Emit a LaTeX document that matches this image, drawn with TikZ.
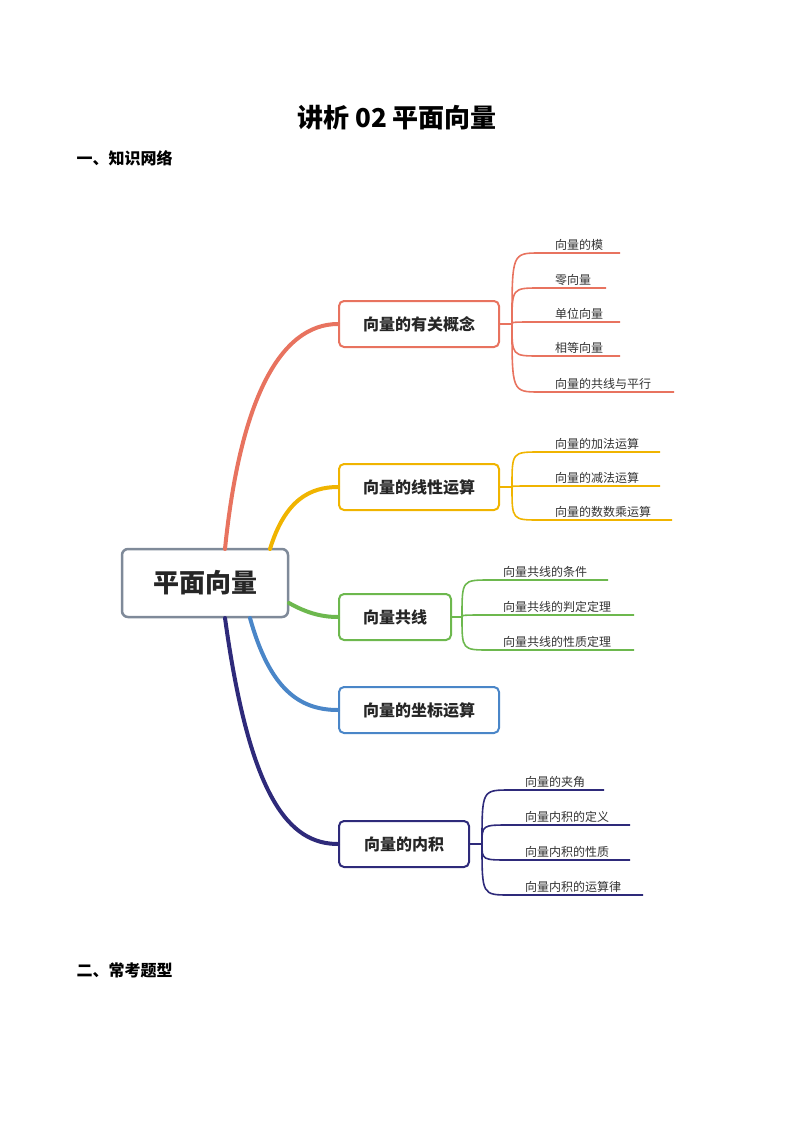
\documentclass[tikz,border=0pt]{standalone}
\usepackage{fontspec}
\setmainfont{Noto Sans CJK SC}
\usetikzlibrary{positioning}
\definecolor{cgray}{HTML}{7F8A99}
\definecolor{cred}{HTML}{E8735F}
\definecolor{cyel}{HTML}{F0B400}
\definecolor{cgrn}{HTML}{6DB84E}
\definecolor{cblu}{HTML}{4A86C8}
\definecolor{cpur}{HTML}{2E2A7A}
\tikzset{
  topic/.style={draw=#1,line width=2pt,rounded corners=5pt,minimum height=46pt,
    font=\fontsize{16}{18}\selectfont\bfseries,text=black!85},
  stem/.style={draw=#1,line width=4pt,line cap=round},
  twig/.style={draw=#1,line width=1.6pt},
  leaf/.style={anchor=south west,inner sep=2pt,text=black!80,font=\fontsize{12}{14}\selectfont}
}
\begin{document}
\begin{tikzpicture}[x=1pt,y=-1pt]
\useasboundingbox (0,0) rectangle (794,1123);
\node (title) at (397,118) {\fontsize{26}{30}\selectfont\bfseries 讲析 02 平面向量};
\node[anchor=west] (sec1) at (73,158) {\fontsize{16}{18}\selectfont\bfseries 一、知识网络};
\node[anchor=west] (sec2) at (73,970) {\fontsize{16}{18}\selectfont\bfseries 二、常考题型};

% centre
\node[draw=cgray,line width=2.5pt,rounded corners=6pt,minimum width=166pt,minimum height=68pt,
  text=black!85,font=\fontsize{26}{30}\selectfont\bfseries] (root) at (205,583) {平面向量};

% main topics
\node[topic=cred,minimum width=160pt] (b1) at (419,324) {向量的有关概念};
\node[topic=cyel,minimum width=160pt] (b2) at (419,487) {向量的线性运算};
\node[topic=cgrn,minimum width=112pt] (b3) at (395,617) {向量共线};
\node[topic=cblu,minimum width=160pt] (b4) at (419,710) {向量的坐标运算};
\node[topic=cpur,minimum width=130pt] (b5) at (404,844) {向量的内积};

\draw[stem=cred] (225,549) .. controls (240,400) and (280,324) .. (b1.west);
\draw[stem=cyel] (270,549) .. controls (285,500) and (310,487) .. (b2.west);
\draw[stem=cgrn] (289,603) .. controls (305,612) and (320,617) .. (b3.west);
\draw[stem=cblu] (250,618) .. controls (270,690) and (300,710) .. (b4.west);
\draw[stem=cpur] (225,618) .. controls (250,800) and (290,844) .. (b5.west);

% leaves of topic 1
\coordinate (j1) at (512,324);
\draw[twig=cred] (b1.east) -- (j1);
\foreach \y/\e/\t in {253/620/向量的模,288/606/零向量,322/620/单位向量,356/620/相等向量,392/674/向量的共线与平行}{
  \coordinate (s) at (540,\y);
  \draw[twig=cred] (j1) .. controls (j1 |- s) .. (s) -- (\e,\y);
  \node[leaf] at (553,\y) {\t};
}
% leaves of topic 2
\coordinate (j2) at (512,487);
\draw[twig=cyel] (b2.east) -- (j2);
\foreach \y/\e/\t in {452/660/向量的加法运算,486/660/向量的减法运算,520/672/向量的数数乘运算}{
  \coordinate (s) at (540,\y);
  \draw[twig=cyel] (j2) .. controls (j2 |- s) .. (s) -- (\e,\y);
  \node[leaf] at (553,\y) {\t};
}
% leaves of topic 3
\coordinate (j3) at (462,617);
\draw[twig=cgrn] (b3.east) -- (j3);
\foreach \y/\e/\t in {580/608/向量共线的条件,615/634/向量共线的判定定理,650/634/向量共线的性质定理}{
  \coordinate (s) at (490,\y);
  \draw[twig=cgrn] (j3) .. controls (j3 |- s) .. (s) -- (\e,\y);
  \node[leaf] at (501,\y) {\t};
}
% leaves of topic 5
\coordinate (j5) at (482,844);
\draw[twig=cpur] (b5.east) -- (j5);
\foreach \y/\e/\t in {790/604/向量的夹角,825/630/向量内积的定义,860/630/向量内积的性质,895/643/向量内积的运算律}{
  \coordinate (s) at (510,\y);
  \draw[twig=cpur] (j5) .. controls (j5 |- s) .. (s) -- (\e,\y);
  \node[leaf] at (523,\y) {\t};
}
\end{tikzpicture}
\end{document}
